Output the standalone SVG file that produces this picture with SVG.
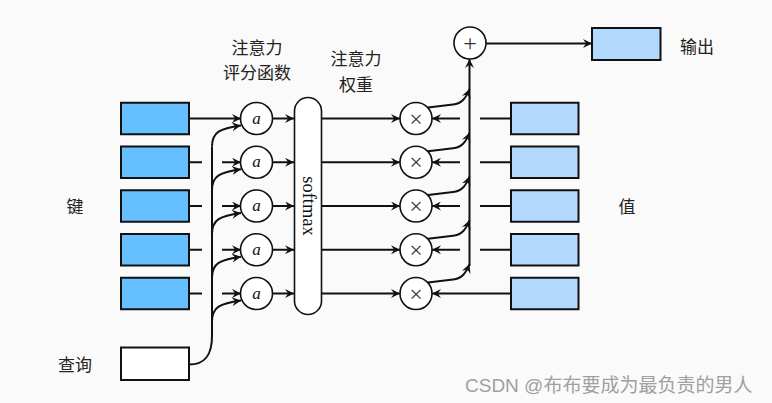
<svg xmlns="http://www.w3.org/2000/svg" width="772" height="403" viewBox="0 0 772 403">
<defs>
<marker id="ar" viewBox="0 0 10 10" refX="10" refY="5" markerWidth="10" markerHeight="9" markerUnits="userSpaceOnUse" orient="auto">
<path d="M0,0 L10,5 L0,10 L3.5,5 Z" fill="#111"/>
</marker>
<style>
.k{fill:#66bfff;stroke:#111;stroke-width:2}
.v{fill:#b3d9ff;stroke:#111;stroke-width:2}
.q{fill:#fff;stroke:#111;stroke-width:2}
.c{fill:#fff;stroke:#111;stroke-width:1.6}
.ln{fill:none;stroke:#111;stroke-width:2}
.a{marker-end:url(#ar)}
.t{font-family:"Noto Sans CJK SC","Noto Sans",sans-serif;font-size:17px;fill:#222;text-anchor:middle}
.ai{font-family:"Liberation Serif",serif;font-style:italic;font-size:17px;fill:#111;text-anchor:middle}
.op{font-family:"Liberation Serif",serif;font-size:24px;fill:#333;text-anchor:middle}
</style>
</defs>
<rect width="772" height="403" fill="#fafafa"/>

<g id="keys">
<rect class="k" x="121" y="102.75" width="68" height="31.5"/>
<rect class="k" x="121" y="146.5" width="68" height="31.5"/>
<rect class="k" x="121" y="190.25" width="68" height="31.5"/>
<rect class="k" x="121" y="234" width="68" height="31.5"/>
<rect class="k" x="121" y="277.75" width="68" height="31.5"/>
</g>
<g id="query"><rect class="q" x="121" y="347.5" width="68" height="32.5"/></g>
<g id="values">
<rect class="v" x="511" y="102.75" width="67.5" height="31.5"/>
<rect class="v" x="511" y="146.5" width="67.5" height="31.5"/>
<rect class="v" x="511" y="190.25" width="67.5" height="31.5"/>
<rect class="v" x="511" y="234" width="67.5" height="31.5"/>
<rect class="v" x="511" y="277.75" width="67.5" height="31.5"/>
</g>
<g id="output"><rect class="v" x="592" y="28" width="68.5" height="32"/></g>

<g id="connectors">
<path class="ln a" d="M189 118.5 H241"/>
<path class="ln" d="M189 162.25 H202 M189 206 H202 M189 249.75 H202 M189 293.5 H202"/>
<path class="ln a" d="M222 162.25 H241"/>
<path class="ln a" d="M222 206 H241"/>
<path class="ln a" d="M222 249.75 H241"/>
<path class="ln a" d="M222 293.5 H241"/>
<path class="ln" d="M189 364.5 C206 364.5 212 354 212 336 V146.5"/>
<path class="ln a" d="M212 146.5 C212 132 220 128.5 241 125.5"/>
<path class="ln a" d="M212 190.25 C212 175.75 220 172.25 241 169.25"/>
<path class="ln a" d="M212 234 C212 219.5 220 216 241 213"/>
<path class="ln a" d="M212 277.75 C212 263.25 220 259.75 241 256.75"/>
<path class="ln a" d="M212 321.5 C212 307 220 303.5 241 300.5"/>
<path class="ln a" d="M272.5 118.5 H294"/>
<path class="ln a" d="M272.5 162.25 H294"/>
<path class="ln a" d="M272.5 206 H294"/>
<path class="ln a" d="M272.5 249.75 H294"/>
<path class="ln a" d="M272.5 293.5 H294"/>
<path class="ln a" d="M321 118.5 H400"/>
<path class="ln a" d="M321 162.25 H400"/>
<path class="ln a" d="M321 206 H400"/>
<path class="ln a" d="M321 249.75 H400"/>
<path class="ln a" d="M321 293.5 H400"/>
<path class="ln" d="M511 118.5 H480 M511 162.25 H480 M511 206 H480 M511 249.75 H480"/>
<path class="ln a" d="M460 118.5 H432"/>
<path class="ln a" d="M460 162.25 H432"/>
<path class="ln a" d="M460 206 H432"/>
<path class="ln a" d="M460 249.75 H432"/>
<path class="ln a" d="M511 293.5 H432"/>
<path class="ln a" d="M428 107.5 L453 104.5 C462 103.5 466 98 469.5 89"/>
<path class="ln a" d="M428 151.25 L453 148.25 C462 147.25 466 141.75 469.5 132.75"/>
<path class="ln a" d="M428 195 L453 192 C462 191 466 185.5 469.5 176.5"/>
<path class="ln a" d="M428 238.75 L453 235.75 C462 234.75 466 229.25 469.5 220.25"/>
<path class="ln a" d="M428 282.5 L453 279.5 C462 278.5 466 273 469.5 264"/>
<path class="ln a" d="M469.5 266 V59"/>
<path class="ln a" d="M486 43.5 H592"/>
</g>

<g id="score">
<circle class="c" cx="256.5" cy="118.5" r="16"/>
<circle class="c" cx="256.5" cy="162.25" r="16"/>
<circle class="c" cx="256.5" cy="206" r="16"/>
<circle class="c" cx="256.5" cy="249.75" r="16"/>
<circle class="c" cx="256.5" cy="293.5" r="16"/>
<text class="ai" x="256.5" y="123.5">a</text>
<text class="ai" x="256.5" y="167.25">a</text>
<text class="ai" x="256.5" y="211">a</text>
<text class="ai" x="256.5" y="254.75">a</text>
<text class="ai" x="256.5" y="298.5">a</text>
</g>
<g id="softmax">
<rect class="c" x="294.5" y="97.5" width="27" height="217" rx="13.5" stroke-width="2"/>
<text x="0" y="0" transform="translate(302.5 206) rotate(90)" style="font-family:'Liberation Serif',serif;font-size:18.5px;fill:#111;text-anchor:middle">softmax</text>
</g>
<g id="mul">
<circle class="c" cx="416" cy="118.5" r="16"/>
<circle class="c" cx="416" cy="162.25" r="16"/>
<circle class="c" cx="416" cy="206" r="16"/>
<circle class="c" cx="416" cy="249.75" r="16"/>
<circle class="c" cx="416" cy="293.5" r="16"/>
<text class="op" x="416" y="126.5">×</text>
<text class="op" x="416" y="170.25">×</text>
<text class="op" x="416" y="214">×</text>
<text class="op" x="416" y="257.75">×</text>
<text class="op" x="416" y="301.5">×</text>
</g>
<g id="sum">
<circle class="c" cx="470" cy="43" r="16"/>
<text class="op" x="470" y="51">+</text>
</g>

<g id="labels">
<text class="t" x="257" y="54">注意力</text>
<text class="t" x="257" y="79">评分函数</text>
<text class="t" x="356" y="65">注意力</text>
<text class="t" x="356" y="91">权重</text>
<text class="t" x="75" y="213">键</text>
<text class="t" x="75" y="371">查询</text>
<text class="t" x="627" y="213">值</text>
<text class="t" x="697" y="53">输出</text>
<text x="465" y="392" style="font-family:'Liberation Sans','Noto Sans CJK SC',sans-serif;font-size:19px;fill:#a0a0a0">CSDN @布布要成为最负责的男人</text>
</g>
</svg>
